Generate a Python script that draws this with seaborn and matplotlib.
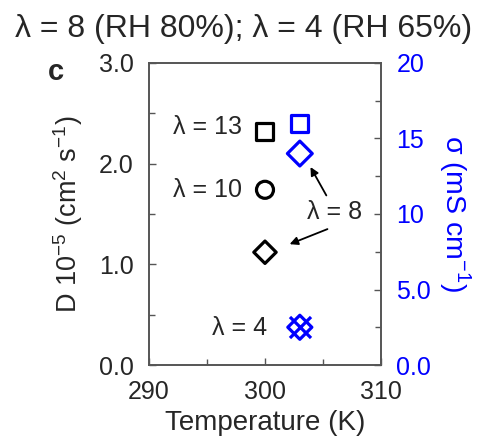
import matplotlib
matplotlib.use("Agg")
import matplotlib.pyplot as plt
import seaborn as sns
import numpy as np

# ---- data ----
temp_D = [300, 300, 300]
D_vals = [2.32, 1.74, 1.12]            # lambda = 13, 10, 8
D_markers = ["s", "o", "D"]

temp_sigma = [303, 303]
sigma_vals = [16.0, 14.0]               # lambda = 8 (square, diamond)
sigma_markers = ["s", "D"]

temp_sigma4 = [303]
sigma4_vals = [2.5]                     # lambda = 4 (overlapping)

x_ticks = [290, 300, 310]
yl_ticks = [0.0, 1.0, 2.0, 3.0]
yl_labels = ["0.0", "1.0", "2.0", "3.0"]
yr_ticks = [0, 5, 10, 15, 20]
yr_labels = ["0.0", "5.0", "10", "15", "20"]

title = "λ = 8 (RH 80%); λ = 4 (RH 65%)"

sns.set_style("ticks")
plt.rcParams["font.family"] = ["Liberation Sans", "DejaVu Sans"]
plt.rcParams["mathtext.fontset"] = "custom"
plt.rcParams["mathtext.rm"] = "Liberation Sans"

fig = plt.figure(figsize=(4.88, 4.43), dpi=100)
ax = fig.add_axes([0.305, 0.176, 0.476, 0.682])
ax2 = ax.twinx()

blue = "#0000ff"
for xv, yv, m in zip(temp_D, D_vals, D_markers):
    sns.scatterplot(x=[xv], y=[yv], marker=m, s=150 if m != "D" else 130,
                    facecolor="none", edgecolor="black", linewidth=2.3, ax=ax, zorder=3)
for xv, yv, m in zip(temp_sigma, sigma_vals, sigma_markers):
    sns.scatterplot(x=[xv], y=[yv], marker=m, s=150 if m != "D" else 160,
                    facecolor="none", edgecolor=blue, linewidth=2.3, ax=ax2, zorder=3)
sns.scatterplot(x=temp_sigma4, y=sigma4_vals, marker="D", s=150,
                facecolor="none", edgecolor=blue, linewidth=2.3, ax=ax2, zorder=3)
sns.scatterplot(x=temp_sigma4, y=sigma4_vals, marker="x", s=230,
                color=blue, linewidth=2.3, ax=ax2, zorder=3)

ax.set_xlim(290, 310)
ax.set_ylim(0, 3.0)
ax2.set_ylim(0, 20)

ax.set_xticks(x_ticks)
ax.set_xticklabels([str(t) for t in x_ticks])
ax.set_xticks([295, 305], minor=True)
ax.set_yticks(yl_ticks)
ax.set_yticklabels(yl_labels)
ax.set_yticks([0.5, 1.5, 2.5], minor=True)
ax2.set_yticks(yr_ticks)
ax2.set_yticklabels(yr_labels)
ax2.set_yticks([2.5, 7.5, 12.5, 17.5], minor=True)

for a in (ax, ax2):
    a.tick_params(which="both", direction="in", length=5, width=1, color="#555555", labelsize=18)
    a.tick_params(which="minor", length=4)
    for s in a.spines.values():
        s.set_color("#555555")
        s.set_linewidth(1.2)
    a.set_xlabel("")
ax.tick_params(axis="x", pad=11)
ax.tick_params(axis="y", pad=11)
ax2.tick_params(axis="y", labelcolor=blue, pad=11)

ax.set_xlabel("Temperature (K)", fontsize=20, labelpad=4)
ax.set_ylabel(r"D 10$^{-5}$ (cm$^{2}$ s$^{-1}$)", fontsize=19.5, labelpad=10)
ax2.set_ylabel(r"σ (mS cm$^{-1}$)", fontsize=20.5, color=blue, rotation=270, labelpad=30)

# annotations
ax.text(298.0, 2.36, "λ = 13", fontsize=18, ha="right", va="center")
ax.text(298.0, 1.74, "λ = 10", fontsize=18, ha="right", va="center")
ax.text(300.2, 0.37, "λ = 4", fontsize=18, ha="right", va="center")
ax.text(306.0, 1.52, "λ = 8", fontsize=18, ha="center", va="center")
ax.annotate("", xy=(303.8, 1.99), xytext=(305.4, 1.66),
            arrowprops=dict(arrowstyle="-|>", color="black", lw=1.3, mutation_scale=12))
ax.annotate("", xy=(301.9, 1.19), xytext=(305.6, 1.36),
            arrowprops=dict(arrowstyle="-|>", color="black", lw=1.3, mutation_scale=12))

fig.text(0.5, 0.935, title, fontsize=23, ha="center", va="center")
fig.text(0.115, 0.837, "c", fontsize=21, fontweight="bold", ha="center", va="center")

fig.savefig("out.png", dpi=100)
